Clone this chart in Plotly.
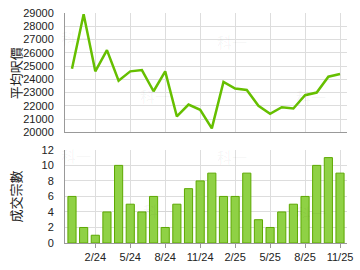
import plotly.graph_objects as go
from plotly.subplots import make_subplots

months = ["12/23", "1/24", "2/24", "3/24", "4/24", "5/24", "6/24", "7/24", "8/24", "9/24", "10/24", "11/24",
          "12/24", "1/25", "2/25", "3/25", "4/25", "5/25", "6/25", "7/25", "8/25", "9/25", "10/25", "11/25"]
avg_price = [24800, 28900, 24600, 26200, 23900, 24600, 24700, 23100, 24600, 21200, 22100, 21700,
             20300, 23800, 23300, 23200, 22000, 21400, 21900, 21800, 22800, 23000, 24200, 24400]
deals = [6, 2, 1, 4, 10, 5, 4, 6, 2, 5, 7, 8, 9, 6, 6, 9, 3, 2, 4, 5, 6, 10, 11, 9]
tick_labels = ["2/24", "5/24", "8/24", "11/24", "2/25", "5/25", "8/25", "11/25"]

x = list(range(len(months)))
tickvals = [months.index(t) for t in tick_labels]

fig = make_subplots(rows=2, cols=1, shared_xaxes=False, vertical_spacing=0.0)

fig.add_trace(go.Scatter(x=x, y=avg_price, mode="lines",
                         line=dict(color="#66bf00", width=2.5), hoverinfo="skip"), row=1, col=1)
fig.add_trace(go.Bar(x=x, y=deals, width=0.7,
                     marker=dict(color="#8fd145", line=dict(color="#5ca800", width=1)),
                     hoverinfo="skip"), row=2, col=1)

font_tick = dict(family="Liberation Sans, Arial", size=11, color="#222222")
grid = "#dddddd"

fig.update_layout(
    width=360, height=270, showlegend=False,
    margin=dict(l=65, r=7, t=7, b=26),
    paper_bgcolor="white", plot_bgcolor="white",
    xaxis=dict(domain=[0, 1], range=[-0.6, 23.6], tickvals=tickvals, showticklabels=False,
               showgrid=True, gridcolor=grid, gridwidth=1, zeroline=False,
               showline=True, linecolor="#999999", linewidth=1, ticks=""),
    yaxis=dict(domain=[0.481, 1.0], range=[20000, 29000], dtick=1000, tickformat="d",
               tickfont=font_tick,
               showgrid=True, gridcolor=grid, zeroline=False, showline=True,
               linecolor="#999999", linewidth=1, ticks="", ticklabelstandoff=8),
    xaxis2=dict(domain=[0, 1], range=[-0.6, 23.6], tickvals=tickvals, ticktext=tick_labels,
                tickfont=font_tick, showgrid=True, gridcolor=grid, zeroline=False,
                showline=True, linecolor="#999999", linewidth=1, ticks="outside",
                ticklen=4, tickcolor="#999999"),
    yaxis2=dict(domain=[0.0, 0.405], range=[0, 12], dtick=2, tickfont=font_tick,
                showgrid=True, gridcolor=grid, zeroline=False, showline=True,
                linecolor="#999999", linewidth=1, ticks="", ticklabelstandoff=8),
)

def px2x(px):
    return (px - 65) / 288

def px2y(py):
    return (244 - py) / 237

title_font = dict(family="Noto Sans CJK TC", size=13, color="#222222")
fig.add_annotation(text="平均呎價", xref="paper", yref="paper", x=px2x(14), y=px2y(69),
                   xanchor="center", yanchor="middle",
                   textangle=-90, showarrow=False, font=title_font)
fig.add_annotation(text="成交宗數", xref="paper", yref="paper", x=px2x(14), y=px2y(196),
                   xanchor="center", yanchor="middle",
                   textangle=-90, showarrow=False, font=title_font)

wm = [(76, 32), (157, 92), (236, 36), (316, 93), (76, 154), (160, 210), (236, 155), (316, 213)]
for px, py in wm:
    fig.add_annotation(text="科一", xref="paper", yref="paper",
                       x=px2x(px), y=px2y(py), xanchor="center", yanchor="middle",
                       showarrow=False,
                       font=dict(family="Noto Sans CJK TC", size=15, color="rgba(0,0,0,0.05)"))

fig.write_html("out.html")
